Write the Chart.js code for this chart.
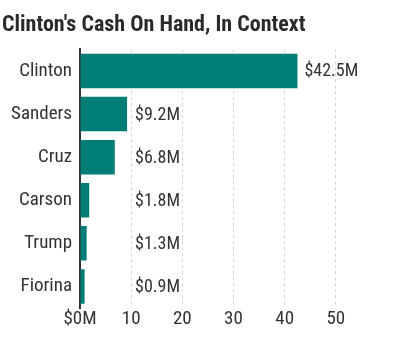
<!DOCTYPE html>
<html>
<head>
<meta charset="utf-8">
<script src="https://cdn.jsdelivr.net/npm/chart.js@4/dist/chart.umd.min.js"></script>
<style>
html,body{margin:0;padding:0;background:#fff;}
#wrap{width:400px;height:358px;}
</style>
</head>
<body>
<div id="wrap"><canvas id="c" width="400" height="358"></canvas></div>
<script>
const title = "Clinton's Cash On Hand, In Context";
const candidates = ["Clinton", "Sanders", "Cruz", "Carson", "Trump", "Fiorina"];
const cashMillions = [42.5, 9.2, 6.8, 1.8, 1.3, 0.9];
const xTicks = [0, 10, 20, 30, 40, 50];

const FONT = "'Liberation Sans Narrow', 'Roboto Condensed', 'Arial Narrow', Roboto, sans-serif";
const TEXT = '#333';
const BAR = '#007d76';

const valueLabels = {
  id: 'valueLabels',
  afterDatasetsDraw(chart) {
    const ctx = chart.ctx;
    const xs = chart.scales.x;
    const meta = chart.getDatasetMeta(0);
    const minX = xs.getPixelForValue(9.4);
    ctx.save();
    ctx.font = '18px ' + FONT;
    ctx.fillStyle = TEXT;
    ctx.textAlign = 'left';
    ctx.textBaseline = 'middle';
    meta.data.forEach((bar, i) => {
      const v = chart.data.datasets[0].data[i];
      ctx.fillText('$' + v.toFixed(1) + 'M', Math.max(bar.x, minX) + 7, bar.y + 1);
    });
    ctx.restore();
  }
};

new Chart(document.getElementById('c'), {
  type: 'bar',
  data: {
    labels: candidates,
    datasets: [{
      data: cashMillions,
      backgroundColor: BAR,
      borderWidth: 0,
      barPercentage: 0.8,
      categoryPercentage: 1.0
    }]
  },
  plugins: [valueLabels],
  options: {
    indexAxis: 'y',
    responsive: false,
    animation: false,
    layout: { padding: { left: 2, right: 13, top: 0, bottom: 0 } },
    plugins: {
      legend: { display: false },
      tooltip: { enabled: false },
      title: {
        display: true,
        text: title,
        align: 'start',
        color: '#2a2a2a',
        font: { family: FONT, size: 22, weight: 'bold' },
        padding: { top: 12, bottom: 11 }
      }
    },
    scales: {
      x: {
        min: 0,
        max: 60,
        afterBuildTicks(s) { s.ticks = xTicks.concat([60]).map(v => ({ value: v })); },
        afterFit(s) { s.height = 50; },
        border: { display: false, dash: [3, 3] },
        grid: {
          drawTicks: false,
          color: c => (c.tick && (c.tick.value === 0 || c.tick.value === 60)) ? 'rgba(0,0,0,0)' : '#d6d6d6',
          lineWidth: 1
        },
        ticks: {
          padding: 0,
          color: TEXT,
          font: { family: FONT, size: 19 },
          callback: v => v === 0 ? '$0M' : (v === 60 ? '' : String(v))
        }
      },
      y: {
        afterFit(s) { s.width = 78; },
        border: { display: true, color: '#333', width: 2 },
        grid: { display: false, drawTicks: false },
        ticks: {
          padding: 8,
          color: TEXT,
          font: { family: FONT, size: 19 }
        }
      }
    }
  }
});
</script>
</body>
</html>
